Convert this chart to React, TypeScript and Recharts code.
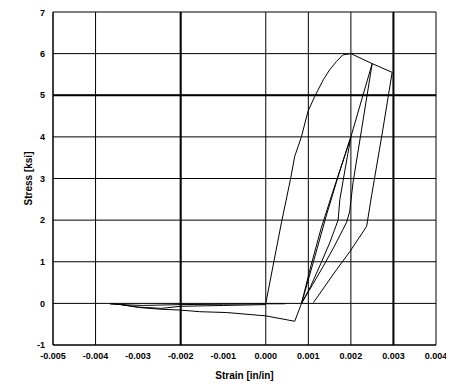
import { LineChart, Line, XAxis, YAxis, CartesianGrid, ReferenceLine, Label } from 'recharts';

// strain ticks [in/in] and stress ticks [ksi]
const strainTicks = [-0.005, -0.004, -0.003, -0.002, -0.001, 0, 0.001, 0.002, 0.003, 0.004];
const stressTicks = [-1, 0, 1, 2, 3, 4, 5, 6, 7];

// envelope: first loading up to peak, then the softening points
const envelope = [
  { x: 0, y: 0 }, { x: 0.00037, y: 1.95 }, { x: 0.00058, y: 2.98 }, { x: 0.00068, y: 3.53 },
  { x: 0.00084, y: 4.01 }, { x: 0.00099, y: 4.61 }, { x: 0.00115, y: 4.97 }, { x: 0.00135, y: 5.37 },
  { x: 0.0015, y: 5.61 }, { x: 0.00166, y: 5.81 }, { x: 0.00181, y: 5.97 }, { x: 0.002, y: 6.0 },
  { x: 0.0025, y: 5.76 }, { x: 0.00297, y: 5.55 },
];

// unloading from the 0.0025 point
const unloadMid = [
  { x: 0.0025, y: 5.76 }, { x: 0.00225, y: 4.17 }, { x: 0.00205, y: 2.9 }, { x: 0.00197, y: 2.2 },
  { x: 0.0019, y: 1.95 }, { x: 0.00181, y: 1.77 }, { x: 0.0016, y: 1.35 }, { x: 0.00135, y: 0.89 },
  { x: 0.0011, y: 0.45 }, { x: 0.00084, y: 0 },
];

// reloading back through the common point
const reloadA = [
  { x: 0.00084, y: 0 }, { x: 0.00112, y: 1.0 }, { x: 0.00142, y: 2.1 }, { x: 0.0017, y: 3.05 },
  { x: 0.002, y: 4.0 }, { x: 0.0025, y: 5.76 },
];
const reloadB = [
  { x: 0.00084, y: 0 }, { x: 0.00106, y: 0.9 }, { x: 0.0013, y: 1.8 }, { x: 0.00155, y: 2.6 },
  { x: 0.002, y: 4.0 },
];

// partial unloading from the 4 ksi point
const unloadPartial = [
  { x: 0.002, y: 4.0 }, { x: 0.00186, y: 3.2 }, { x: 0.00174, y: 2.49 }, { x: 0.0017, y: 2.0 },
  { x: 0.0015, y: 1.45 }, { x: 0.00129, y: 0.95 }, { x: 0.00105, y: 0.4 }, { x: 0.00084, y: 0 },
];

// last unloading from 0.003
const unloadLast = [
  { x: 0.00297, y: 5.55 }, { x: 0.00275, y: 4.17 }, { x: 0.00249, y: 2.61 }, { x: 0.00237, y: 1.85 },
  { x: 0.00198, y: 1.25 }, { x: 0.00167, y: 0.82 }, { x: 0.00112, y: 0.02 },
];

// tension side (negative stress)
const tensUpper = [
  { x: 0.00045, y: -0.01 }, { x: 0, y: -0.01 }, { x: -0.001, y: -0.02 }, { x: -0.002, y: -0.03 },
  { x: -0.0029, y: -0.05 }, { x: -0.0034, y: -0.03 }, { x: -0.00366, y: -0.01 },
];
const tensMid = [
  { x: 0, y: -0.03 }, { x: -0.001, y: -0.05 }, { x: -0.002, y: -0.07 }, { x: -0.00245, y: -0.12 },
  { x: -0.003, y: -0.09 }, { x: -0.0034, y: -0.03 },
];
const tensLower = [
  { x: -0.00366, y: -0.01 }, { x: -0.0034, y: -0.03 }, { x: -0.00296, y: -0.1 }, { x: -0.00249, y: -0.14 },
  { x: -0.00202, y: -0.16 }, { x: -0.00155, y: -0.2 }, { x: -0.00092, y: -0.22 }, { x: 0, y: -0.3 },
  { x: 0.00068, y: -0.43 }, { x: 0.00084, y: 0 },
];

const curves = [envelope, unloadMid, reloadA, reloadB, unloadPartial, unloadLast, tensUpper, tensMid, tensLower];

const font = 'Arial, "Liberation Sans", sans-serif';
const tickStyle = { fill: '#000', fontSize: 9, fontWeight: 'bold' as const, fontFamily: font };

function YTitle({ viewBox }: any) {
  const cx = viewBox.x + 20;
  const cy = viewBox.y + viewBox.height / 2;
  return (
    <text x={cx} y={cy} transform={`rotate(-90 ${cx} ${cy})`} textAnchor="middle" dominantBaseline="central"
      style={{ fontSize: 10, fontWeight: 'bold', fontFamily: font, fill: '#000' }}>
      Stress [ksi]
    </text>
  );
}

export default function App() {
  return (
    <LineChart width={446} height={373} margin={{ top: 4, right: 18, bottom: 0, left: 0 }}
      style={{ background: '#fff' }}>
      <CartesianGrid stroke="#000" strokeWidth={1} />
      <XAxis
        type="number"
        dataKey="x"
        domain={[-0.005, 0.004]}
        ticks={strainTicks}
        tickFormatter={(v: number) => v.toFixed(3)}
        tick={tickStyle}
        tickLine={false}
        tickSize={6}
        tickMargin={2}
        axisLine={{ stroke: '#000' }}
        height={36}
        allowDataOverflow
      >
        <Label value="Strain [in/in]" position="insideBottom" offset={2}
          style={{ fontSize: 10, fontWeight: 'bold', fontFamily: font, fill: '#000' }} />
      </XAxis>
      <YAxis
        type="number"
        domain={[-1, 7]}
        ticks={stressTicks}
        tick={tickStyle}
        tickLine={false}
        tickSize={6}
        tickMargin={2}
        axisLine={{ stroke: '#000' }}
        width={45}
        allowDataOverflow
        label={<YTitle />}
      />
      <ReferenceLine x={-0.002} stroke="#000" strokeWidth={2} />
      <ReferenceLine x={0.003} stroke="#000" strokeWidth={2} />
      <ReferenceLine y={5} stroke="#000" strokeWidth={2} />
      {curves.map((c, i) => (
        <Line key={i} data={c} dataKey="y" type="linear" stroke="#000" strokeWidth={1}
          dot={false} activeDot={false} isAnimationActive={false} />
      ))}
    </LineChart>
  );
}
